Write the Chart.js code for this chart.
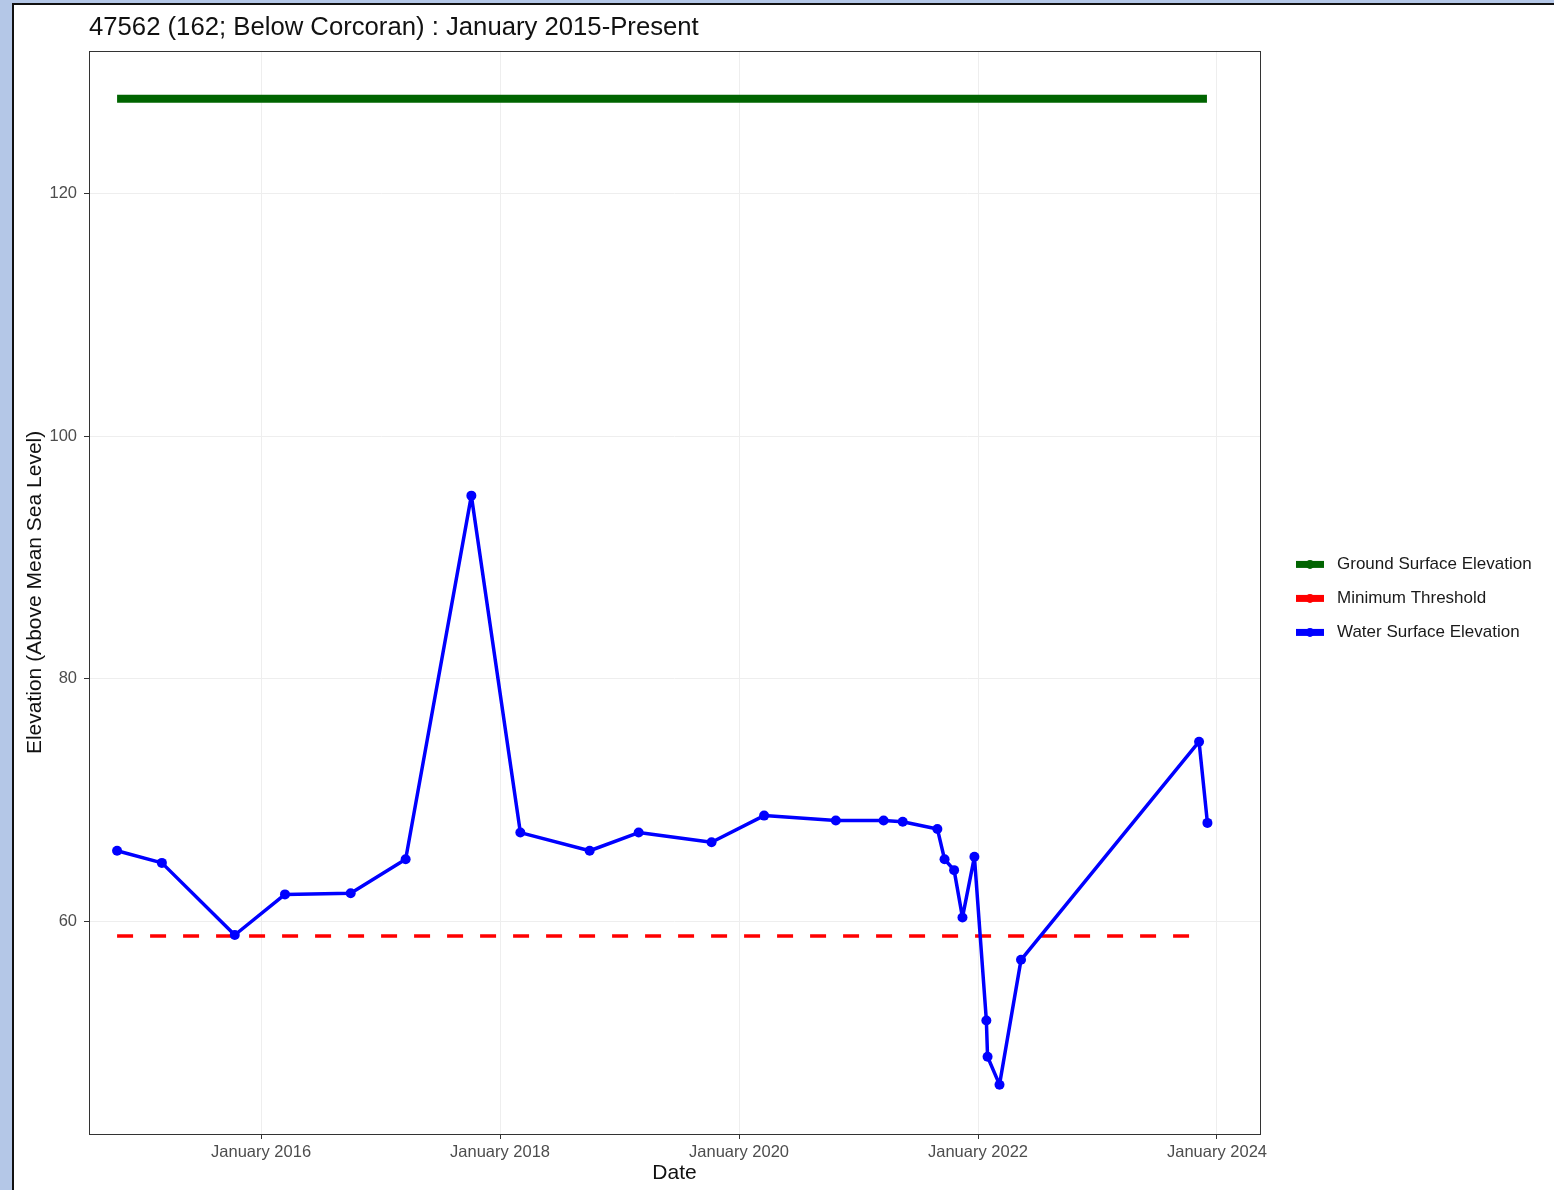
<!DOCTYPE html>
<html>
<head>
<meta charset="utf-8">
<title>47562 (162; Below Corcoran)</title>
<script src="https://cdn.jsdelivr.net/npm/chart.js@4.4.1/dist/chart.umd.min.js"></script>
<style>
body{margin:0;background:#b4c7e7;width:1554px;height:1190px;overflow:hidden;}
#panel{position:absolute;left:12px;top:3px;width:1560px;height:1200px;background:#fff;border-left:2px solid #111;border-top:2px solid #111;}
#myChart{position:absolute;left:0;top:0;}
</style>
</head>
<body>
<div id="panel"></div>
<canvas id="myChart" width="1554" height="1190"></canvas>
<script>
// datos (fechas en años decimales)
const fechas = [2014.795, 2015.17, 2015.78, 2016.20, 2016.75, 2017.21, 2017.76, 2018.17, 2018.75, 2019.16,
    2019.77, 2020.21, 2020.81, 2021.21, 2021.37, 2021.66, 2021.72, 2021.80, 2021.87, 2021.97,
    2022.07, 2022.08, 2022.18, 2022.36, 2023.85, 2023.92];
const nivelAgua = [65.8, 64.8, 58.85, 62.2, 62.3, 65.1, 95.1, 67.3, 65.8, 67.3,
    66.5, 68.7, 68.3, 68.3, 68.2, 67.6, 65.1, 64.2, 60.3, 65.3,
    51.8, 48.8, 46.5, 56.8, 74.8, 68.1];
const fechasSuelo = [2014.795, 2023.916];
const elevacionSuelo = [127.84, 127.84];
const fechasUmbral = [2014.795, 2023.85];
const umbralMinimo = [58.76, 58.76];
const aniosTicks = [2016, 2018, 2020, 2022, 2024];
const ticksY = [60, 80, 100, 120];
const etiquetas = ['Ground Surface Elevation', 'Minimum Threshold', 'Water Surface Elevation'];
const colores = ['#006400', '#ff0000', '#0000ff'];

const fuente = '"Liberation Sans", Arial, sans-serif';

function puntos(xs, ys){
    return xs.map((x, i) => ({x: x, y: ys[i]}));
}

// dibuja el marco del panel y la leyenda a la derecha
const marcoYLeyenda = {
    id: 'marcoYLeyenda',
    afterDraw(chart){
        const ctx = chart.ctx;
        const a = chart.chartArea;
        ctx.save();
        ctx.strokeStyle = '#333333';
        ctx.lineWidth = 1;
        ctx.strokeRect(Math.round(a.left) + 0.5, Math.round(a.top) + 0.5, Math.round(a.right - a.left), Math.round(a.bottom - a.top));
        const x0 = a.right + 36;
        const yc = (a.top + a.bottom) / 2 - 28;
        ctx.font = '17px ' + fuente;
        ctx.textBaseline = 'middle';
        ctx.textAlign = 'left';
        etiquetas.forEach((txt, i) => {
            const y = yc + i * 34;
            ctx.strokeStyle = colores[i];
            ctx.lineWidth = 7;
            ctx.lineCap = 'butt';
            ctx.beginPath();
            ctx.moveTo(x0, y);
            ctx.lineTo(x0 + 28, y);
            ctx.stroke();
            ctx.fillStyle = colores[i];
            ctx.beginPath();
            ctx.arc(x0 + 14, y, 4.5, 0, Math.PI * 2);
            ctx.fill();
            ctx.fillStyle = '#1a1a1a';
            ctx.fillText(txt, x0 + 41, y);
        });
        ctx.restore();
    }
};

const ctx = document.getElementById('myChart');
new Chart(ctx, {
    type: 'line',
    data: {
        datasets: [{
            label: etiquetas[0],
            data: puntos(fechasSuelo, elevacionSuelo),
            borderColor: colores[0],
            borderWidth: 8,
            pointRadius: 0,
            order: 2
        }, {
            label: etiquetas[1],
            data: puntos(fechasUmbral, umbralMinimo),
            borderColor: colores[1],
            borderWidth: 3.5,
            borderDash: [16, 17],
            pointRadius: 0,
            order: 1
        }, {
            label: etiquetas[2],
            data: puntos(fechas, nivelAgua),
            borderColor: colores[2],
            backgroundColor: colores[2],
            borderWidth: 3.5,
            borderJoinStyle: 'round',
            pointRadius: 5,
            pointBorderWidth: 0,
            order: 0
        }]
    },
    options: {
        responsive: false,
        animation: false,
        devicePixelRatio: 1,
        layout: {padding: {left: 0, right: 294, top: 0, bottom: 0}},
        plugins: {
            legend: {display: false},
            tooltip: {enabled: false},
            title: {
                display: true,
                text: '47562 (162; Below Corcoran) : January 2015-Present',
                align: 'start',
                fullSize: false,
                color: '#111111',
                font: {family: fuente, size: 25.7, weight: 'normal'},
                padding: {top: 12, bottom: 8}
            }
        },
        scales: {
            x: {
                type: 'linear',
                min: 2014.56,
                max: 2024.36,
                afterBuildTicks: (scale) => { scale.ticks = aniosTicks.map(v => ({value: v})); },
                afterFit: (scale) => { scale.height = 56; },
                ticks: {
                    callback: (v) => 'January ' + v,
                    color: '#4d4d4d',
                    font: {family: fuente, size: 16.5},
                    padding: 4,
                    maxRotation: 0
                },
                grid: {color: '#eeeeee', tickColor: '#333333', tickLength: 5},
                border: {display: false},
                title: {
                    display: true,
                    text: 'Date',
                    color: '#111111',
                    font: {family: fuente, size: 21},
                    padding: {top: 0, bottom: 4}
                }
            },
            y: {
                type: 'linear',
                min: 42.43,
                max: 131.8,
                afterBuildTicks: (scale) => { scale.ticks = ticksY.map(v => ({value: v})); },
                afterFit: (scale) => { scale.width = 89; },
                ticks: {
                    color: '#4d4d4d',
                    font: {family: fuente, size: 16.5},
                    padding: 7
                },
                grid: {color: '#eeeeee', tickColor: '#333333', tickLength: 5},
                border: {display: false},
                title: {
                    display: true,
                    text: 'Elevation (Above Mean Sea Level)',
                    color: '#111111',
                    font: {family: fuente, size: 21},
                    padding: {top: 23, bottom: 0}
                }
            }
        }
    },
    plugins: [marcoYLeyenda]
});
</script>
</body>
</html>
